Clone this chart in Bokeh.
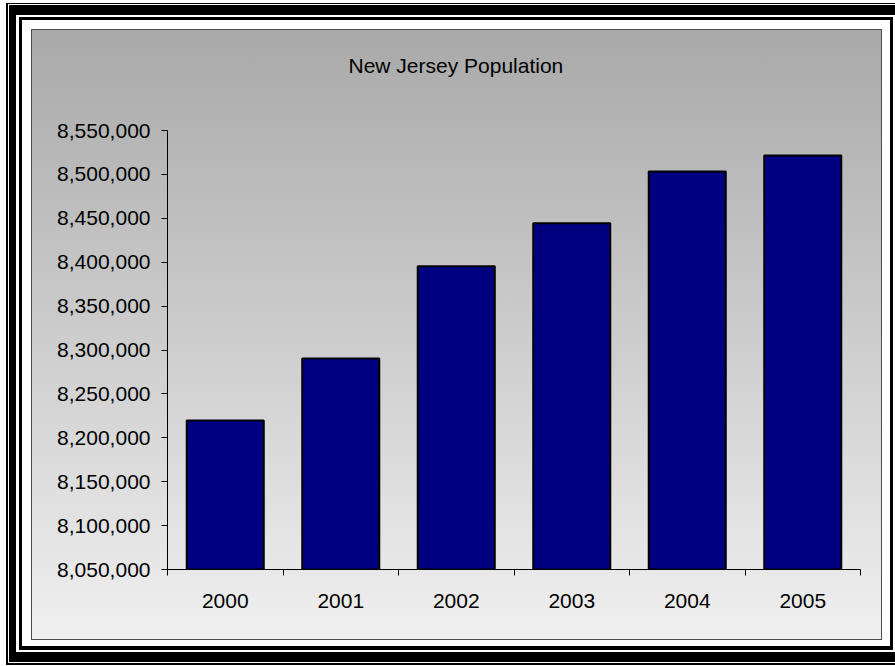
import numpy as np
from bokeh.plotting import figure
from bokeh.models import Range1d, FixedTicker, NumeralTickFormatter
from bokeh.embed import file_html
from bokeh.resources import INLINE

# ---- data ----
years = ["2000", "2001", "2002", "2003", "2004", "2005"]
population = [8219600, 8290300, 8395400, 8444400, 8503300, 8521500]
y_ticks = [8050000, 8100000, 8150000, 8200000, 8250000, 8300000,
           8350000, 8400000, 8450000, 8500000, 8550000]
y_min, y_max = 8050000, 8550000
title_text = "New Jersey Population"

FONT = "Liberation Sans"
FS = "21px"

x_pos = [i + 0.5 for i in range(len(years))]
boundaries = list(range(len(years) + 1))

p = figure(width=895, height=666, output_backend="svg", toolbar_location=None,
           x_range=Range1d(0, len(years)), y_range=Range1d(y_min, y_max),
           min_border_left=167, min_border_right=35, min_border_top=130,
           min_border_bottom=97)

p.vbar(x=x_pos, top=population, bottom=y_min, width=0.667,
       fill_color="#000080", line_color="#000000", line_width=2)

p.xgrid.visible = False
p.ygrid.visible = False
p.outline_line_color = None
p.background_fill_color = None
p.border_fill_color = None

# x axis: ticks at category boundaries, labels at centres
xa = p.xaxis[0]
xa.ticker = FixedTicker(ticks=x_pos, minor_ticks=boundaries)
xa.major_label_overrides = {x: y for x, y in zip(x_pos, years)}
xa.major_tick_line_color = None
xa.major_tick_out = 0
xa.major_tick_in = 0
xa.minor_tick_out = 6
xa.minor_tick_in = 0
xa.minor_tick_line_color = "#000000"
xa.axis_line_color = "#000000"
xa.major_label_standoff = 18
xa.major_label_text_font = FONT
xa.major_label_text_font_size = FS
xa.major_label_text_color = "#000000"

ya = p.yaxis[0]
ya.ticker = FixedTicker(ticks=y_ticks, minor_ticks=[])
ya.formatter = NumeralTickFormatter(format="0,0")
ya.major_tick_out = 6
ya.major_tick_in = 0
ya.major_tick_line_color = "#000000"
ya.minor_tick_line_color = None
ya.axis_line_color = "#000000"
ya.major_label_standoff = 11
ya.major_label_text_font = FONT
ya.major_label_text_font_size = FS
ya.major_label_text_color = "#000000"

p.title.text = title_text
p.title.align = "left"
p.title.offset = 181
p.title.vertical_align = "top"
p.title.text_font = FONT
p.title.text_font_size = FS
p.title.text_font_style = "normal"
p.title.text_color = "#000000"
p.title.standoff = 104

def layer(color_css, x, y, w, h):
    return f"{color_css} {x}px {y}px / {w}px {h}px no-repeat"

solid = lambda c: f"linear-gradient({c}, {c})"
layers = [
    layer("linear-gradient(#a9a9a9, #f0f0f0)", 32, 30, 849, 609),
    layer(solid("#4d4d4d"), 31, 29, 851, 611),
    layer(solid("#ffffff"), 22, 20, 868, 626),
    layer(solid("#000000"), 19, 17, 874, 633),
    layer(solid("#ffffff"), 16, 15, 900, 637),
    layer(solid("#000000"), 9, 5, 900, 657),
    layer(solid("#ffffff"), 8, 4, 900, 659),
    layer(solid("#000000"), 6, 3, 900, 662),
]
p.styles = {"background": ", ".join(layers) + ", #ffffff"}

html = file_html(p, INLINE)
html = html.replace("<body>", '<body style="margin:0">', 1)
open("out.html", "w").write(html)
